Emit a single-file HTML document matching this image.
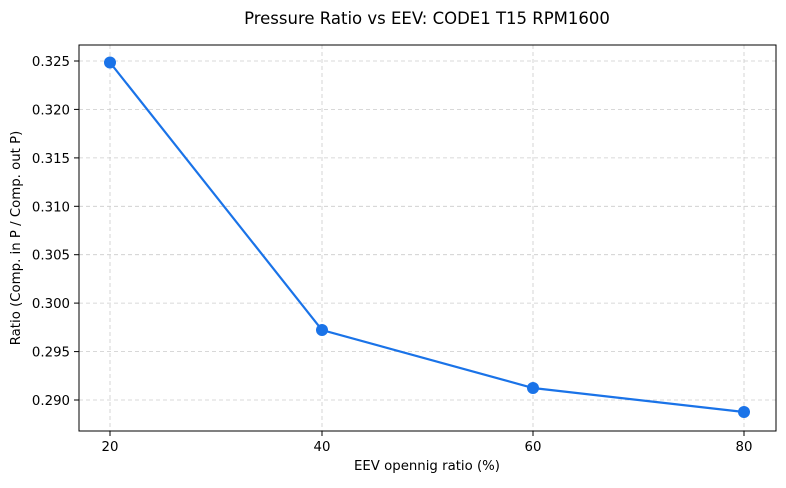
<!DOCTYPE html>
<html><head><style>body{margin:0;background:#fff}</style></head><body>
<svg width="786" height="483" xmlns="http://www.w3.org/2000/svg" font-family="DejaVu Sans, Liberation Sans, sans-serif">
<rect width="786" height="483" fill="#fff"/>
<text x="427" y="24" text-anchor="middle" font-size="16.5">Pressure Ratio vs EEV: CODE1 T15 RPM1600</text>
<g stroke="#ccc" stroke-width="0.8" stroke-dasharray="4,3">
<line x1="110" y1="45" x2="110" y2="431"/><line x1="322" y1="45" x2="322" y2="431"/>
<line x1="533" y1="45" x2="533" y2="431"/><line x1="744" y1="45" x2="744" y2="431"/>
<line x1="79" y1="61" x2="776" y2="61"/><line x1="79" y1="109.4" x2="776" y2="109.4"/>
<line x1="79" y1="157.9" x2="776" y2="157.9"/><line x1="79" y1="206.3" x2="776" y2="206.3"/>
<line x1="79" y1="254.7" x2="776" y2="254.7"/><line x1="79" y1="303.1" x2="776" y2="303.1"/>
<line x1="79" y1="351.6" x2="776" y2="351.6"/><line x1="79" y1="400" x2="776" y2="400"/>
</g>
<rect x="79" y="45" width="697" height="386" fill="none" stroke="#000" stroke-width="1"/>
<g stroke="#000" stroke-width="1">
<line x1="74" y1="61" x2="79" y2="61"/><line x1="74" y1="109.4" x2="79" y2="109.4"/>
<line x1="74" y1="157.9" x2="79" y2="157.9"/><line x1="74" y1="206.3" x2="79" y2="206.3"/>
<line x1="74" y1="254.7" x2="79" y2="254.7"/><line x1="74" y1="303.1" x2="79" y2="303.1"/>
<line x1="74" y1="351.6" x2="79" y2="351.6"/><line x1="74" y1="400" x2="79" y2="400"/>
<line x1="110" y1="431" x2="110" y2="436"/><line x1="322" y1="431" x2="322" y2="436"/>
<line x1="533" y1="431" x2="533" y2="436"/><line x1="744" y1="431" x2="744" y2="436"/>
</g>
<g font-size="13.3" text-anchor="end">
<text x="70" y="66">0.325</text><text x="70" y="114.4">0.320</text><text x="70" y="162.9">0.315</text>
<text x="70" y="211.3">0.310</text><text x="70" y="259.7">0.305</text><text x="70" y="308.1">0.300</text>
<text x="70" y="356.6">0.295</text><text x="70" y="405">0.290</text>
</g>
<g font-size="13.3" text-anchor="middle">
<text x="110" y="451">20</text><text x="322" y="451">40</text><text x="533" y="451">60</text><text x="744" y="451">80</text>
<text x="427" y="470">EEV opennig ratio (%)</text>
</g>
<text transform="translate(20,238) rotate(-90)" font-size="13.3" text-anchor="middle">Ratio (Comp. in P / Comp. out P)</text>
<polyline points="110,62.5 322,330 533,388 744,412" fill="none" stroke="#1a73e8" stroke-width="2.2"/>
<g fill="#1a73e8"><circle cx="110" cy="62.5" r="6"/><circle cx="322" cy="330" r="6"/><circle cx="533" cy="388" r="6"/><circle cx="744" cy="412" r="6"/></g>
</svg>
</body></html>
